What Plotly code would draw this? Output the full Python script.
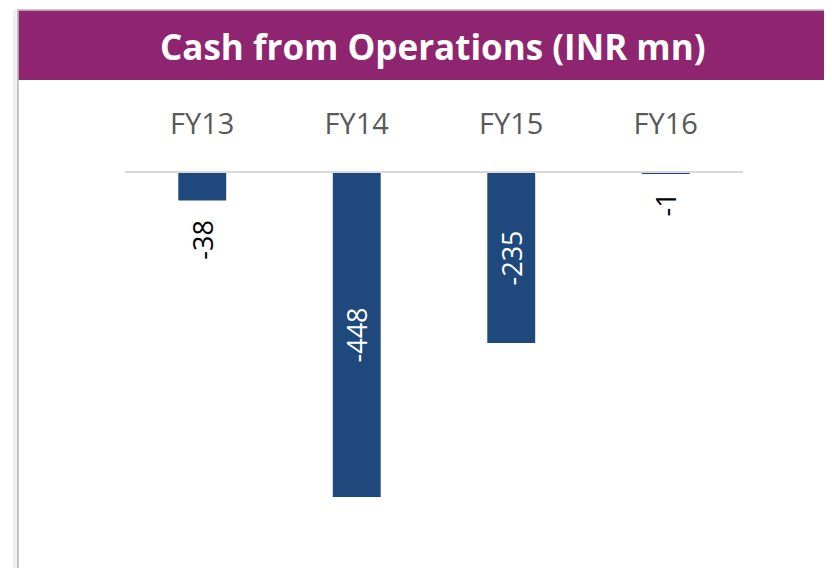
import plotly.graph_objects as go

categories = ["FY13", "FY14", "FY15", "FY16"]
values = [-38, -448, -235, -1]
labels = ["-38", "-448", "-235", "-1"]

W, H = 824, 560
OFF = 8  # page body margin in the browser

def py(p):  # screen pixel from top -> paper y
    return 1 - (p - OFF) / H

def px(p):  # screen pixel from left -> paper x
    return (p - OFF) / W

LABEL_FONT = "Open Sans"
inside_threshold = 100
positions = ["inside" if abs(v) > inside_threshold else "none" for v in values]

fig = go.Figure()
fig.add_trace(go.Bar(
    x=categories, y=values,
    text=labels, texttemplate="%{text}",
    textposition=positions, textangle=-90,
    insidetextanchor="middle",
    insidetextfont=dict(color="white", size=27, family=LABEL_FONT),
    marker=dict(color="#1F497D", line=dict(width=0)),
    width=0.31, cliponaxis=False,
))

annotations = [
    dict(text="<b>Cash from Operations (INR mn)</b>", xref="paper", yref="paper",
         x=px(433), y=py(47), xanchor="center", yanchor="middle", showarrow=False,
         font=dict(size=35, color="white", family="Open Sans")),
]
for c, v, t, p in zip(categories, values, labels, positions):
    if p == "none":
        annotations.append(dict(
            x=c, y=v, xref="x", yref="y", text=t, showarrow=False,
            textangle=-90, xanchor="center", yanchor="top", yshift=-17,
            font=dict(color="black", size=27, family=LABEL_FONT),
        ))

y_top = 173
scale = 324 / 448
y_min = -500
y_bottom = y_top + (-y_min) * scale

fig.update_layout(
    width=W, height=H,
    margin=dict(l=0, r=0, t=0, b=0),
    paper_bgcolor="white", plot_bgcolor="rgba(0,0,0,0)",
    showlegend=False,
    xaxis=dict(
        domain=[px(125), px(743)], side="top", anchor="y",
        showline=True, linecolor="#D9D9D9", linewidth=2,
        showgrid=False, ticks="", tickfont=dict(size=29, color="#595959", family="Open Sans"),
        ticklabelstandoff=25,
    ),
    yaxis=dict(
        domain=[py(y_bottom), py(y_top)], range=[y_min, 0],
        visible=False, showgrid=False, zeroline=False,
    ),
    shapes=[
        dict(type="rect", xref="paper", yref="paper", x0=px(13), x1=px(18), y0=0, y1=py(10),
             fillcolor="#EFEFEF", line=dict(width=0), layer="below"),
        dict(type="rect", xref="paper", yref="paper", x0=px(18), x1=px(850), y0=py(590), y1=py(10),
             fillcolor="white", line=dict(color="#B5B5B5", width=1.5), layer="below"),
        dict(type="rect", xref="paper", yref="paper", x0=px(18.7), x1=px(850), y0=py(80), y1=py(10.7),
             fillcolor="#8F2470", line=dict(width=0), layer="below"),
    ],
    annotations=annotations,
)

fig.write_html("out.html")
